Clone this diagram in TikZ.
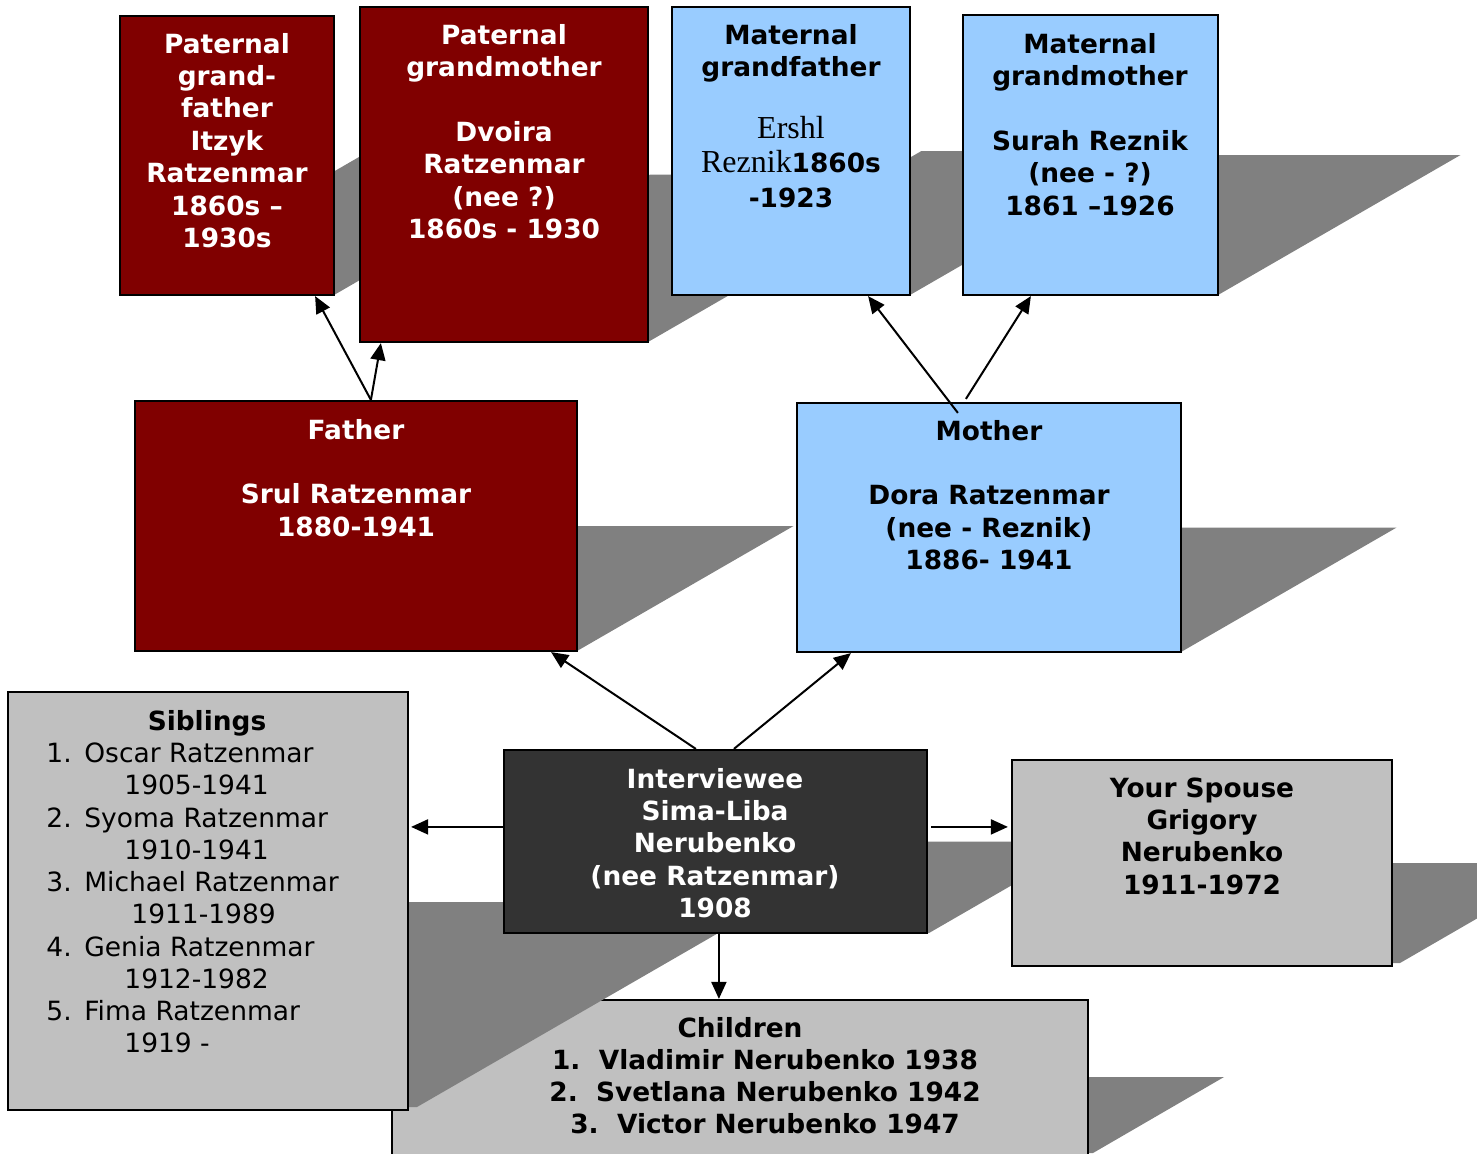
\documentclass[tikz,border=0pt]{standalone}
\usepackage{fontspec}
\setmainfont{DejaVu Sans}
\newfontfamily\serifZ{Liberation Serif}
\usetikzlibrary{arrows.meta,calc,fit}
\definecolor{dred}{HTML}{800000}
\definecolor{lblue}{HTML}{99CCFF}
\definecolor{dgray}{HTML}{333333}
\definecolor{lgray}{HTML}{C0C0C0}
\definecolor{shad}{HTML}{808080}
\tikzset{
  box/.style={draw=black, line width=1.1pt, inner sep=0pt},
  txt/.style={inner sep=0pt, align=center, anchor=base, font=\fontsize{13.2}{16.2}\selectfont\bfseries},
  wtxt/.style={txt, text=white},
  listtxt/.style={inner sep=0pt, align=left, anchor=base west, font=\fontsize{13.25}{16.11}\selectfont},
  arr/.style={line width=1pt, -{Triangle[length=8.5pt,width=7.5pt]}},
  shadowfill/.style={fill=shad}
}
\begin{document}
\begin{tikzpicture}[x=0.5pt,y=-0.5pt]
\useasboundingbox (0,0) rectangle (1477,1153);
% children (lowest layer)
\fill[shadowfill] (397,1153) -- (1093,1153) -- (1224,1077) -- (528,1077) -- cycle;
\node[box, fill=lgray, fit={(392,1000) (1088,1170)}] (ch) {};
% shadows
\fill[shadowfill] (120,295) -- (334,295) -- (575.6,155.5) -- (361.6,155.5) -- cycle;
\fill[shadowfill] (360,342) -- (648,342) -- (938.1,174.5) -- (650.1,174.5) -- cycle;
\fill[shadowfill] (672,295) -- (910,295) -- (1159.4,151) -- (921.4,151) -- cycle;
\fill[shadowfill] (963,295) -- (1218,295) -- (1460.5,155) -- (1205.5,155) -- cycle;
\fill[shadowfill] (135,651) -- (577,651) -- (793.5,526) -- (351.5,526) -- cycle;
\fill[shadowfill] (797,652) -- (1181,652) -- (1396.6,527.5) -- (1012.6,527.5) -- cycle;
\fill[shadowfill] (506,933) -- (929,933) -- (1087.5,841.5) -- (664.5,841.5) -- cycle;
\fill[shadowfill] (1020,963) -- (1400,963) -- (1573,863) -- (1193,863) -- cycle;
\fill[shadowfill] (17,1107) -- (417,1107) -- (772,902) -- (372,902) -- cycle;
% boxes
\node[box, fill=dred, fit={(120,16) (334,295)}] (pgf) {};
\node[box, fill=dred, fit={(360,7) (648,342)}] (pgm) {};
\node[box, fill=lblue, fit={(672,7) (910,295)}] (mgf) {};
\node[box, fill=lblue, fit={(963,15) (1218,295)}] (mgm) {};
\node[box, fill=dred, fit={(135,401) (577,651)}] (fa) {};
\node[box, fill=lblue, fit={(797,403) (1181,652)}] (mo) {};
\node[box, fill=dgray, fit={(504,750) (927,933)}] (iv) {};
\node[box, fill=lgray, fit={(1012,760) (1392,966)}] (sp) {};
\node[box, fill=lgray, fit={(8,692) (408,1110)}] (sib) {};
% texts (anchor = baseline of the last line)
\node[wtxt] (pgfT) at (227,247.4) {Paternal\\grand-\\father\\Itzyk\\Ratzenmar\\1860s –\\1930s};
\node[wtxt] (pgmT) at (504,238.4) {Paternal\\grandmother\\[16.2pt]Dvoira\\Ratzenmar\\(nee ?)\\1860s - 1930};
\node[txt] (mgfT) at (791,76.4) {Maternal\\grandfather};
\node[txt, font=\fontsize{13.2}{17.3}\selectfont\bfseries] (mgfN) at (791,207.2)
  {{\serifZ\mdseries\fontsize{16}{17.3}\selectfont Ershl}\\{\serifZ\mdseries\fontsize{16}{17.3}\selectfont Reznik}1860s\\-1923};
\node[txt] (mgmT) at (1090,215) {Maternal\\grandmother\\[16.2pt]Surah Reznik\hspace{7pt}\\(nee - ?)\\1861 –1926};
\node[wtxt] (faT) at (356,536.2) {Father\\[16.2pt]Srul Ratzenmar\\1880-1941};
\node[txt] (moT) at (989,569.6) {Mother\\[16.2pt]Dora Ratzenmar\\(nee - Reznik)\\1886- 1941};
\node[wtxt] (ivT) at (715,917.6) {Interviewee\\Sima-Liba\\Nerubenko\\(nee Ratzenmar)\\1908};
\node[txt] (spT) at (1202,894.2) {Your Spouse\\Grigory\\Nerubenko\\1911-1972};
\node[txt] (sibH) at (207,730) {Siblings};
\node[listtxt] (sibL) at (46,1052.7) {\makebox[19pt][l]{1.}Oscar Ratzenmar\\\hspace*{39pt}1905-1941\\
  \makebox[19pt][l]{2.}Syoma Ratzenmar\\\hspace*{39pt}1910-1941\\
  \makebox[19pt][l]{3.}Michael Ratzenmar\\\hspace*{42.5pt}1911-1989\\
  \makebox[19pt][l]{4.}Genia Ratzenmar\\\hspace*{39pt}1912-1982\\
  \makebox[19pt][l]{5.}Fima Ratzenmar\\\hspace*{39pt}1919 -};
\node[txt] (chH) at (740,1037) {Children};
\node[txt] (chL) at (765,1133.8) {1.\ \ Vladimir Nerubenko 1938\\2.\ \ Svetlana Nerubenko 1942\\3.\ \ Victor Nerubenko 1947};
% connectors
\draw[arr] ($(fa.north west)+(237,0)$) -- ($(pgf.south east)+(-20,0)$);
\draw[arr] ($(fa.north west)+(237,0)$) -- ($(pgm.south west)+(22,0)$);
\draw[arr] ($(mo.north west)+(162,11)$) -- ($(mgf.south east)+(-43,0)$);
\draw[arr] ($(mo.north west)+(170,-3)$) -- ($(mgm.south west)+(69,0)$);
\draw[arr] ($(iv.north west)+(193,0)$) -- ($(fa.south east)+(-27,0)$);
\draw[arr] ($(iv.north west)+(231,0)$) -- ($(mo.south west)+(55,0)$);
\draw[arr] ($(iv.north west)+(0,78)$) -- ($(sib.north east)+(2,136)$);
\draw[arr] ($(iv.north east)+(3,78)$) -- ($(sp.north west)+(-3,68)$);
\draw[arr] ($(iv.south west)+(216,0)$) -- ($(ch.north west)+(328,0)$);
\end{tikzpicture}
\end{document}
